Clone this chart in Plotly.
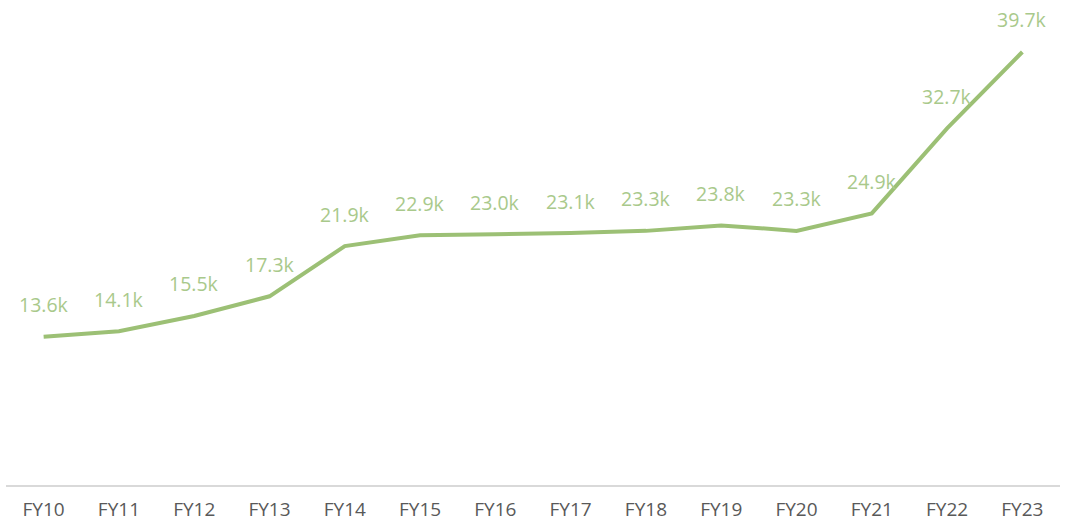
import plotly.graph_objects as go

years = ["FY10", "FY11", "FY12", "FY13", "FY14", "FY15", "FY16", "FY17", "FY18", "FY19", "FY20", "FY21", "FY22", "FY23"]
values = [13.6, 14.1, 15.5, 17.3, 21.9, 22.9, 23.0, 23.1, 23.3, 23.8, 23.3, 24.9, 32.7, 39.7]
labels = [f"{v:.1f}k" for v in values]

fig = go.Figure()
fig.add_trace(go.Scatter(x=years, y=values, mode="lines",
                         line=dict(color="#9cc075", width=4), hoverinfo="skip"))
for x, y, t in zip(years, values, labels):
    fig.add_annotation(x=x, y=y, text=t, showarrow=False, yshift=32,
                       font=dict(family="Open Sans", size=19.5, color="#a9c98b"))

fig.update_layout(
    width=1073, height=524,
    margin=dict(l=6, r=13, t=10, b=39),
    paper_bgcolor="white", plot_bgcolor="white",
    showlegend=False,
    xaxis=dict(type="category", showgrid=False, zeroline=False,
               showline=True, linecolor="#d9d9d9", linewidth=1.5,
               ticks="", ticklabelstandoff=6,
               tickfont=dict(family="Open Sans", size=19, color="#595959"),
               range=[-0.5, 13.5], automargin=False),
    yaxis=dict(range=[0, 43.55], visible=False, showgrid=False, zeroline=False),
)
fig.write_html("out.html", config={"displayModeBar": False},
               post_script="document.body.style.margin='0';")
